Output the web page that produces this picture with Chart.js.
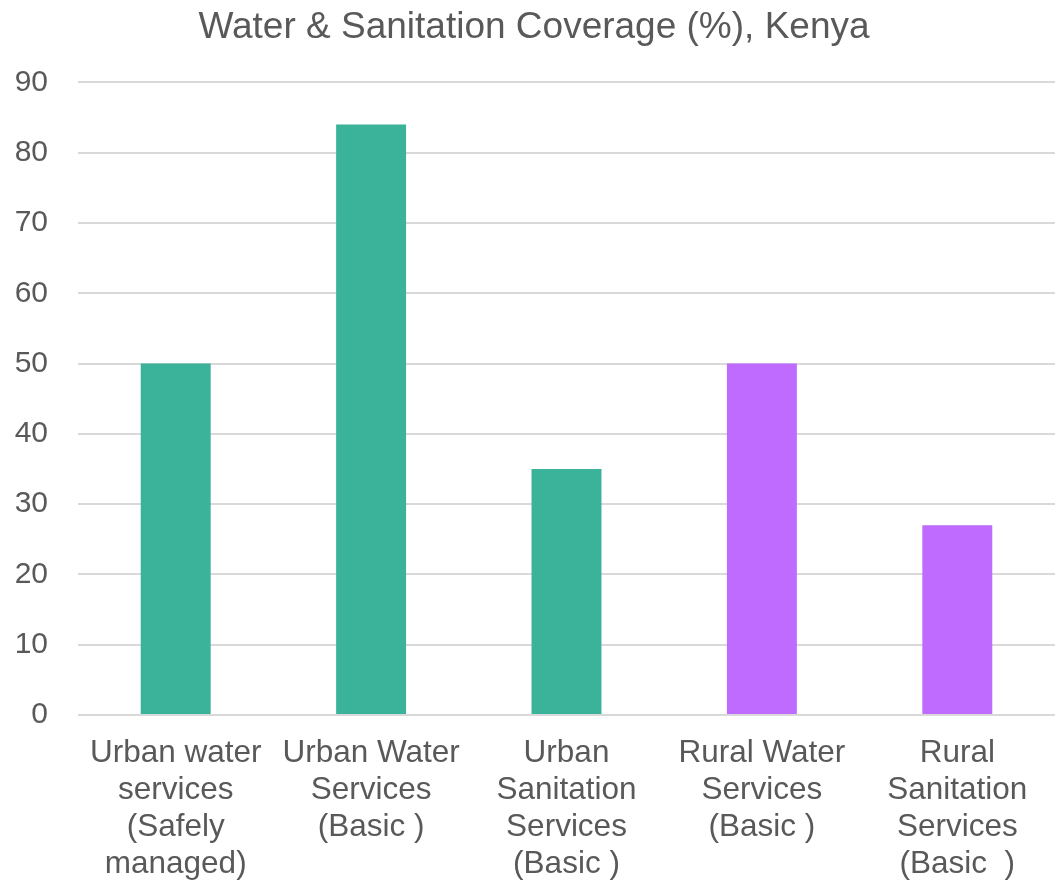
<!DOCTYPE html>
<html>
<head>
<meta charset="utf-8">
<script src="https://cdn.jsdelivr.net/npm/chart.js@4/dist/chart.umd.min.js"></script>
<style>
html,body{margin:0;padding:0;background:#fff;}
#wrap{width:1055px;height:882px;position:relative;}
</style>
</head>
<body>
<div id="wrap"><canvas id="c"></canvas></div>
<script>
const categories = [
  ["Urban water", "services", "(Safely", "managed)"],
  ["Urban Water", "Services", "(Basic )"],
  ["Urban", "Sanitation", "Services", "(Basic )"],
  ["Rural Water", "Services", "(Basic )"],
  ["Rural", "Sanitation", "Services", "(Basic  )"]
];
const coverage = [50, 84, 35, 50, 27];
const barColors = ["#3BB39A", "#3BB39A", "#3BB39A", "#BF6BFF", "#BF6BFF"];
const yTicks = [0, 10, 20, 30, 40, 50, 60, 70, 80, 90];
const chartTitle = "Water & Sanitation Coverage (%), Kenya";

const FONT = "'Liberation Sans', Arial, sans-serif";
new Chart(document.getElementById('c'), {
  type: 'bar',
  data: {
    labels: categories,
    datasets: [{
      data: coverage,
      backgroundColor: barColors,
      borderWidth: 0,
      barPercentage: 0.358,
      categoryPercentage: 1.0
    }]
  },
  options: {
    responsive: true,
    maintainAspectRatio: false,
    animation: false,
    layout: { padding: { left: 13, right: 0, top: 6, bottom: 0 } },
    plugins: {
      legend: { display: false },
      tooltip: { enabled: false },
      title: {
        display: true,
        text: chartTitle,
        color: '#595959',
        font: { family: FONT, size: 37, weight: 'normal', lineHeight: 1.2 },
        padding: { top: 0, bottom: 32 }
      }
    },
    scales: {
      x: {
        afterFit: (axis) => { axis.height = 167; },
        grid: { display: false, drawTicks: false },
        border: { display: false },
        ticks: {
          color: '#595959',
          font: { family: FONT, size: 31.5, lineHeight: 1.17 },
          padding: 20,
          maxRotation: 0,
          autoSkip: false
        }
      },
      y: {
        min: yTicks[0],
        max: yTicks[yTicks.length - 1],
        afterBuildTicks: (axis) => { axis.ticks = yTicks.map(v => ({ value: v })); },
        afterFit: (axis) => { axis.width = 65; },
        grid: { color: '#D9D9D9', lineWidth: 2, drawTicks: false },
        border: { display: false },
        ticks: {
          color: '#595959',
          font: { family: FONT, size: 30 },
          padding: 30
        }
      }
    }
  }
});
</script>
</body>
</html>
